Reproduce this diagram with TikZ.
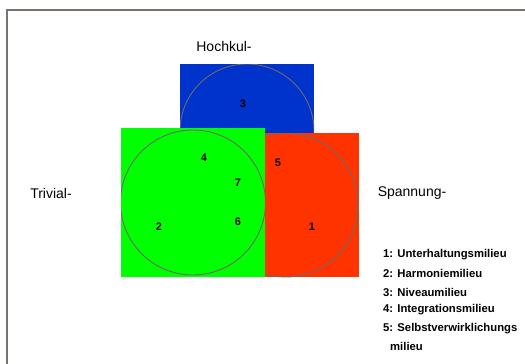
\documentclass[tikz,border=0pt]{standalone}
\usepackage{fontspec}
\setmainfont{Liberation Sans}
\usetikzlibrary{positioning}
\definecolor{hochblue}{HTML}{0033CC}
\definecolor{trivgreen}{HTML}{00FF00}
\definecolor{spanred}{HTML}{FF3300}
\definecolor{ringgray}{HTML}{6E6A66}
\definecolor{framegray}{HTML}{7A726C}

\begin{document}
\begin{tikzpicture}[x=1pt, y=-1pt,
  every node/.style={inner sep=0pt},
  ring/.style={draw=ringgray, line width=0.9pt},
  num/.style={font=\bfseries\fontsize{11}{13}\selectfont},
  schema/.style={font=\fontsize{14}{16}\selectfont},
  legend/.style={anchor=west, font=\bfseries\fontsize{11.3}{13}\selectfont}]
  \useasboundingbox (0,0) rectangle (525,364);
  % frame
  \draw[framegray, line width=1.4pt] (7,364) -- (7,10) -- (525,10);
  % Hochkultur
  \fill[hochblue] (180,64) rectangle (314,133);
  \begin{scope}
    \clip (180,64) rectangle (314,133);
    \draw[ring] (247,131) circle[radius=67];
  \end{scope}
  % Trivial- and Spannungsschema
  \fill[trivgreen] (121,128) rectangle (265,277);
  \fill[spanred] (265,133) rectangle (359,277);
  \begin{scope}
    \clip (121,128) rectangle (265,277);
    \draw[ring] (193,202.5) circle[radius=72.5];
  \end{scope}
  \begin{scope}
    \clip (265,133) rectangle (359,277);
    \draw[ring] (286,205) circle[radius=72];
  \end{scope}
  % milieus
  \node[num] (m3) at (243,104) {3};
  \node[num] (m4) at (204,158) {4};
  \node[num] (m5) at (278,163) {5};
  \node[num] (m7) at (238,183) {7};
  \node[num] (m6) at (238,222) {6};
  \node[num] (m2) at (159,227) {2};
  \node[num] (m1) at (312,227) {1};
  % schemata
  \node[schema] (hoch) at (224,46) {Hochkul-};
  \node[schema] (triv) at (51,193) {Trivial-};
  \node[schema] (span) at (412,193) {Spannung-};
  % legend
  \node[legend] (l1) at (383,255) {1: Unterhaltungsmilieu};
  \node[legend] (l2) at (383,273.5) {2: Harmoniemilieu};
  \node[legend] (l3) at (383,292) {3: Niveaumilieu};
  \node[legend] (l4) at (383,310) {4: Integrationsmilieu};
  \node[legend] (l5) at (383,328.5) {5: Selbstverwirklichungs};
  \node[legend] (l5b) at (390,346.5) {milieu};
\end{tikzpicture}
\end{document}
